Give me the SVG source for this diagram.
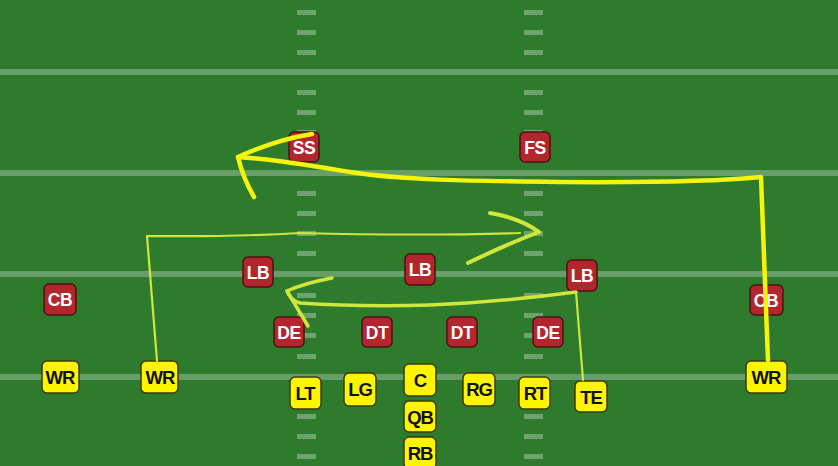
<svg xmlns="http://www.w3.org/2000/svg" width="838" height="466" viewBox="0 0 838 466">
<defs>
<style>
.yl{fill:#ffffff;fill-opacity:0.28}
.hm{fill:#ffffff;fill-opacity:0.3}
.d rect{fill:#b3262e;stroke:#4d1212;stroke-width:1.5}
.d text{fill:#ffffff;font-family:"Liberation Sans",Arial,sans-serif;font-weight:bold;font-size:17.5px;letter-spacing:-0.5px;text-anchor:middle}
.o rect{fill:#fdf500;stroke:#3d3a10;stroke-width:1.5}
.o text{fill:#111111;font-family:"Liberation Sans",Arial,sans-serif;font-weight:bold;font-size:18.5px;letter-spacing:-1px;text-anchor:middle}
.r1{fill:none;stroke:#f4f40c;stroke-width:4.5;stroke-linecap:round;stroke-linejoin:round}
.r2{fill:none;stroke:#cfe63a;stroke-linecap:round;stroke-linejoin:round}
</style>
</defs>
<g id="field">
<rect x="0" y="0" width="838" height="466" fill="#2e7b2e"/>
<rect class="yl" x="0" y="69" width="838" height="6"/>
<rect class="yl" x="0" y="170" width="838" height="6"/>
<rect class="yl" x="0" y="271" width="838" height="6"/>
<rect class="yl" x="0" y="374" width="838" height="6"/>
<g id="hash-left">
<rect class="hm" x="297" y="10" width="19" height="5"/>
<rect class="hm" x="297" y="30" width="19" height="5"/>
<rect class="hm" x="297" y="50" width="19" height="5"/>
<rect class="hm" x="297" y="90" width="19" height="5"/>
<rect class="hm" x="297" y="110" width="19" height="5"/>
<rect class="hm" x="297" y="130" width="19" height="5"/>
<rect class="hm" x="297" y="150" width="19" height="5"/>
<rect class="hm" x="297" y="191" width="19" height="5"/>
<rect class="hm" x="297" y="211" width="19" height="5"/>
<rect class="hm" x="297" y="231" width="19" height="5"/>
<rect class="hm" x="297" y="251" width="19" height="5"/>
<rect class="hm" x="297" y="293" width="19" height="5"/>
<rect class="hm" x="297" y="313" width="19" height="5"/>
<rect class="hm" x="297" y="333" width="19" height="5"/>
<rect class="hm" x="297" y="354" width="19" height="5"/>
<rect class="hm" x="297" y="394" width="19" height="5"/>
<rect class="hm" x="297" y="414" width="19" height="5"/>
<rect class="hm" x="297" y="434" width="19" height="5"/>
<rect class="hm" x="297" y="454" width="19" height="5"/>
</g>
<g id="hash-right">
<rect class="hm" x="524" y="10" width="19" height="5"/>
<rect class="hm" x="524" y="30" width="19" height="5"/>
<rect class="hm" x="524" y="50" width="19" height="5"/>
<rect class="hm" x="524" y="90" width="19" height="5"/>
<rect class="hm" x="524" y="110" width="19" height="5"/>
<rect class="hm" x="524" y="130" width="19" height="5"/>
<rect class="hm" x="524" y="150" width="19" height="5"/>
<rect class="hm" x="524" y="191" width="19" height="5"/>
<rect class="hm" x="524" y="211" width="19" height="5"/>
<rect class="hm" x="524" y="231" width="19" height="5"/>
<rect class="hm" x="524" y="251" width="19" height="5"/>
<rect class="hm" x="524" y="293" width="19" height="5"/>
<rect class="hm" x="524" y="313" width="19" height="5"/>
<rect class="hm" x="524" y="333" width="19" height="5"/>
<rect class="hm" x="524" y="354" width="19" height="5"/>
<rect class="hm" x="524" y="394" width="19" height="5"/>
<rect class="hm" x="524" y="414" width="19" height="5"/>
<rect class="hm" x="524" y="434" width="19" height="5"/>
<rect class="hm" x="524" y="454" width="19" height="5"/>
</g>
</g>
<g id="defense" class="d">
<g id="SS"><rect x="289" y="132" width="30" height="30" rx="5"/><text x="304" y="153.5">SS</text></g>
<g id="FS"><rect x="520" y="132" width="30" height="30" rx="5"/><text x="535" y="153.5">FS</text></g>
<g id="LB1"><rect x="243" y="257" width="30" height="30" rx="5"/><text x="258" y="278.5">LB</text></g>
<g id="LB2"><rect x="405" y="254" width="30" height="31" rx="5"/><text x="420" y="276">LB</text></g>
<g id="LB3"><rect x="567" y="260" width="30" height="31" rx="5"/><text x="582" y="282">LB</text></g>
<g id="DE1"><rect x="274" y="317" width="30" height="30" rx="5"/><text x="289" y="338.5">DE</text></g>
<g id="DT1"><rect x="362" y="317" width="30" height="30" rx="5"/><text x="377" y="338.5">DT</text></g>
<g id="DT2"><rect x="447" y="317" width="30" height="30" rx="5"/><text x="462" y="338.5">DT</text></g>
<g id="DE2"><rect x="533" y="317" width="30" height="30" rx="5"/><text x="548" y="338.5">DE</text></g>
<g id="CB1"><rect x="44" y="284" width="32" height="31" rx="5"/><text x="60" y="306">CB</text></g>
<g id="CB2"><rect x="750" y="285" width="33" height="30" rx="5"/><text x="766" y="306.5">CB</text></g>
</g>
<g id="offense" class="o">
<g id="WR1"><rect x="42" y="361" width="37" height="32" rx="5"/><text x="60" y="384">WR</text></g>
<g id="WR2"><rect x="141" y="361" width="37" height="32" rx="5"/><text x="160" y="384">WR</text></g>
<g id="WR3"><rect x="746" y="361" width="41" height="32" rx="5"/><text x="766" y="384">WR</text></g>
<g id="LT"><rect x="290" y="377" width="31" height="32" rx="5"/><text x="305" y="400">LT</text></g>
<g id="LG"><rect x="344" y="373" width="32" height="33" rx="5"/><text x="360" y="396">LG</text></g>
<g id="C"><rect x="404" y="364" width="32" height="32" rx="5"/><text x="420" y="387">C</text></g>
<g id="QB"><rect x="404" y="401" width="32" height="31" rx="5"/><text x="420" y="423.5">QB</text></g>
<g id="RB"><rect x="404" y="437" width="32" height="32" rx="5"/><text x="420" y="460">RB</text></g>
<g id="RG"><rect x="463" y="373" width="32" height="33" rx="5"/><text x="479" y="396">RG</text></g>
<g id="RT"><rect x="519" y="377" width="31" height="32" rx="5"/><text x="535" y="400">RT</text></g>
<g id="TE"><rect x="575" y="381" width="32" height="31" rx="5"/><text x="591" y="404">TE</text></g>
</g>
<g id="connectors">
<g id="route-wr3">
<path class="r1" d="M768 361 L761 177 Q700 183 560 182 C470 181 400 180 350 172 C300 164 270 159 238 157"/>
<path class="r1" d="M312 134 Q275 140 238 157 Q243 178 254 197"/>
</g>
<g id="route-wr2">
<path class="r2" stroke-width="2.2" d="M157 361 L147 236 Q230 237 300 233 Q420 236 520 233"/>
<path class="r2" stroke-width="4" d="M490 213 Q520 218 539 232 Q505 245 468 263"/>
</g>
<g id="route-te">
<path class="r2" stroke-width="2.2" d="M583 380 L576 292"/>
<path class="r2" stroke-width="3.5" d="M576 292 Q500 302 430 305 Q360 307 300 303 Q290 300 287 291"/>
<path class="r2" stroke-width="3.5" d="M332 278 Q305 283 287 291 Q296 306 308 326"/>
</g>
</g>
</svg>
